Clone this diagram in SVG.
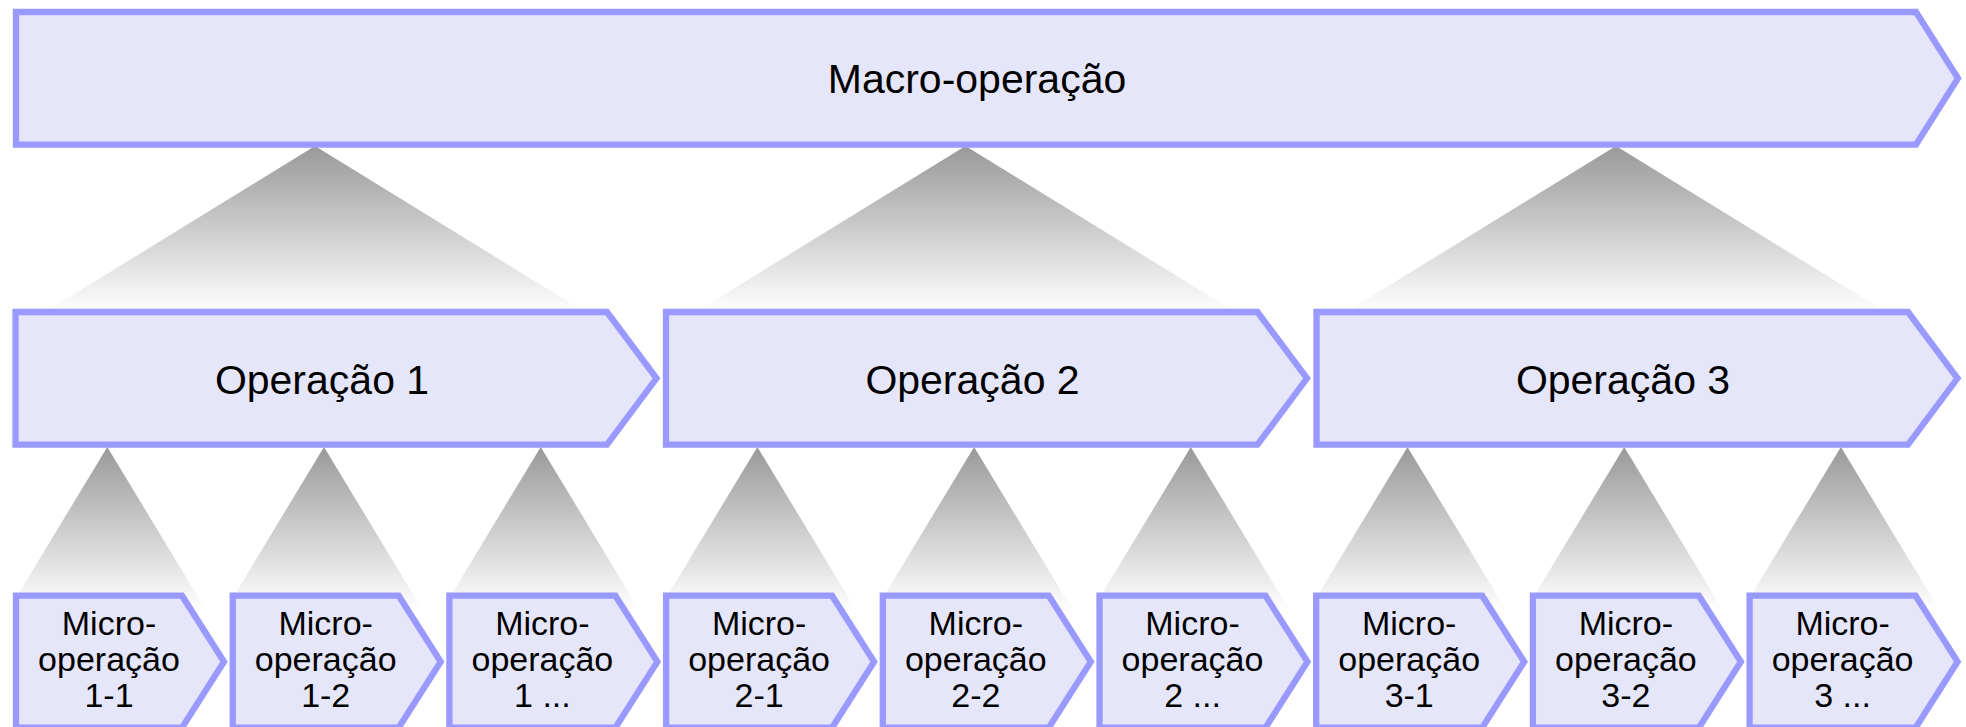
<svg xmlns="http://www.w3.org/2000/svg" width="1966" height="727" viewBox="0 0 1966 727">
<defs>
<linearGradient id="fade" x1="0" y1="0" x2="0" y2="1">
<stop offset="0" stop-color="#999999"/>
<stop offset="1" stop-color="#ffffff"/>
</linearGradient>
<style>
.box{fill:#e6e6fa;stroke:#9999ff;stroke-width:6.3;stroke-linejoin:miter}
.tri{fill:url(#fade);stroke:none}
.t{font-family:"Liberation Sans",Arial,sans-serif;fill:#000;text-anchor:middle}
.big{font-size:41px}
.sm{font-size:34px}
</style>
</defs>
<rect width="1966" height="727" fill="#ffffff"/>
<g id="connectors">
<polygon class="tri" points="315,146 45,312 585,312"/>
<polygon class="tri" points="965.5,146 695.5,312 1235.5,312"/>
<polygon class="tri" points="1616,146 1346,312 1886,312"/>
<polygon class="tri" points="107.3,447 8.7,610 205.9,610"/>
<polygon class="tri" points="324,447 225.4,610 422.6,610"/>
<polygon class="tri" points="540.7,447 442.1,610 639.3,610"/>
<polygon class="tri" points="757.4,447 658.8,610 856,610"/>
<polygon class="tri" points="974.1,447 875.5,610 1072.7,610"/>
<polygon class="tri" points="1190.8,447 1092.2,610 1289.4,610"/>
<polygon class="tri" points="1407.5,447 1308.9,610 1506.1,610"/>
<polygon class="tri" points="1624.2,447 1525.6,610 1722.8,610"/>
<polygon class="tri" points="1840.9,447 1742.3,610 1939.5,610"/>
</g>
<g id="macro">
<polygon class="box" points="16,12 1916,12 1958,78.3 1916,144.6 16,144.6"/>
<text class="t big" x="977" y="93.3">Macro-operação</text>
</g>
<g id="op1">
<polygon class="box" points="15.5,312 607,312 656.5,378.3 607,444.7 15.5,444.7"/>
<text class="t big" x="322" y="393.5">Operação 1</text>
</g>
<g id="op2">
<polygon class="box" points="666,312 1257.5,312 1307,378.3 1257.5,444.7 666,444.7"/>
<text class="t big" x="972.5" y="393.5">Operação 2</text>
</g>
<g id="op3">
<polygon class="box" points="1316.5,312 1908,312 1957.5,378.3 1908,444.7 1316.5,444.7"/>
<text class="t big" x="1623" y="393.5">Operação 3</text>
</g>
<g id="micro11">
<polygon class="box" points="16,595.7 182,595.7 224,661.7 182,727.7 16,727.7"/>
<text class="t sm" x="109" y="634.5">Micro-<tspan x="109" dy="36">operação</tspan><tspan x="109" dy="36">1-1</tspan></text>
</g>
<g id="micro12">
<polygon class="box" points="232.7,595.7 398.7,595.7 440.7,661.7 398.7,727.7 232.7,727.7"/>
<text class="t sm" x="325.7" y="634.5">Micro-<tspan x="325.7" dy="36">operação</tspan><tspan x="325.7" dy="36">1-2</tspan></text>
</g>
<g id="micro13">
<polygon class="box" points="449.4,595.7 615.4,595.7 657.4,661.7 615.4,727.7 449.4,727.7"/>
<text class="t sm" x="542.4" y="634.5">Micro-<tspan x="542.4" dy="36">operação</tspan><tspan x="542.4" dy="36">1 ...</tspan></text>
</g>
<g id="micro21">
<polygon class="box" points="666.1,595.7 832.1,595.7 874.1,661.7 832.1,727.7 666.1,727.7"/>
<text class="t sm" x="759.1" y="634.5">Micro-<tspan x="759.1" dy="36">operação</tspan><tspan x="759.1" dy="36">2-1</tspan></text>
</g>
<g id="micro22">
<polygon class="box" points="882.8,595.7 1048.8,595.7 1090.8,661.7 1048.8,727.7 882.8,727.7"/>
<text class="t sm" x="975.8" y="634.5">Micro-<tspan x="975.8" dy="36">operação</tspan><tspan x="975.8" dy="36">2-2</tspan></text>
</g>
<g id="micro23">
<polygon class="box" points="1099.5,595.7 1265.5,595.7 1307.5,661.7 1265.5,727.7 1099.5,727.7"/>
<text class="t sm" x="1192.5" y="634.5">Micro-<tspan x="1192.5" dy="36">operação</tspan><tspan x="1192.5" dy="36">2 ...</tspan></text>
</g>
<g id="micro31">
<polygon class="box" points="1316.2,595.7 1482.2,595.7 1524.2,661.7 1482.2,727.7 1316.2,727.7"/>
<text class="t sm" x="1409.2" y="634.5">Micro-<tspan x="1409.2" dy="36">operação</tspan><tspan x="1409.2" dy="36">3-1</tspan></text>
</g>
<g id="micro32">
<polygon class="box" points="1532.9,595.7 1698.9,595.7 1740.9,661.7 1698.9,727.7 1532.9,727.7"/>
<text class="t sm" x="1625.9" y="634.5">Micro-<tspan x="1625.9" dy="36">operação</tspan><tspan x="1625.9" dy="36">3-2</tspan></text>
</g>
<g id="micro33">
<polygon class="box" points="1749.6,595.7 1915.6,595.7 1957.6,661.7 1915.6,727.7 1749.6,727.7"/>
<text class="t sm" x="1842.6" y="634.5">Micro-<tspan x="1842.6" dy="36">operação</tspan><tspan x="1842.6" dy="36">3 ...</tspan></text>
</g>
</svg>
